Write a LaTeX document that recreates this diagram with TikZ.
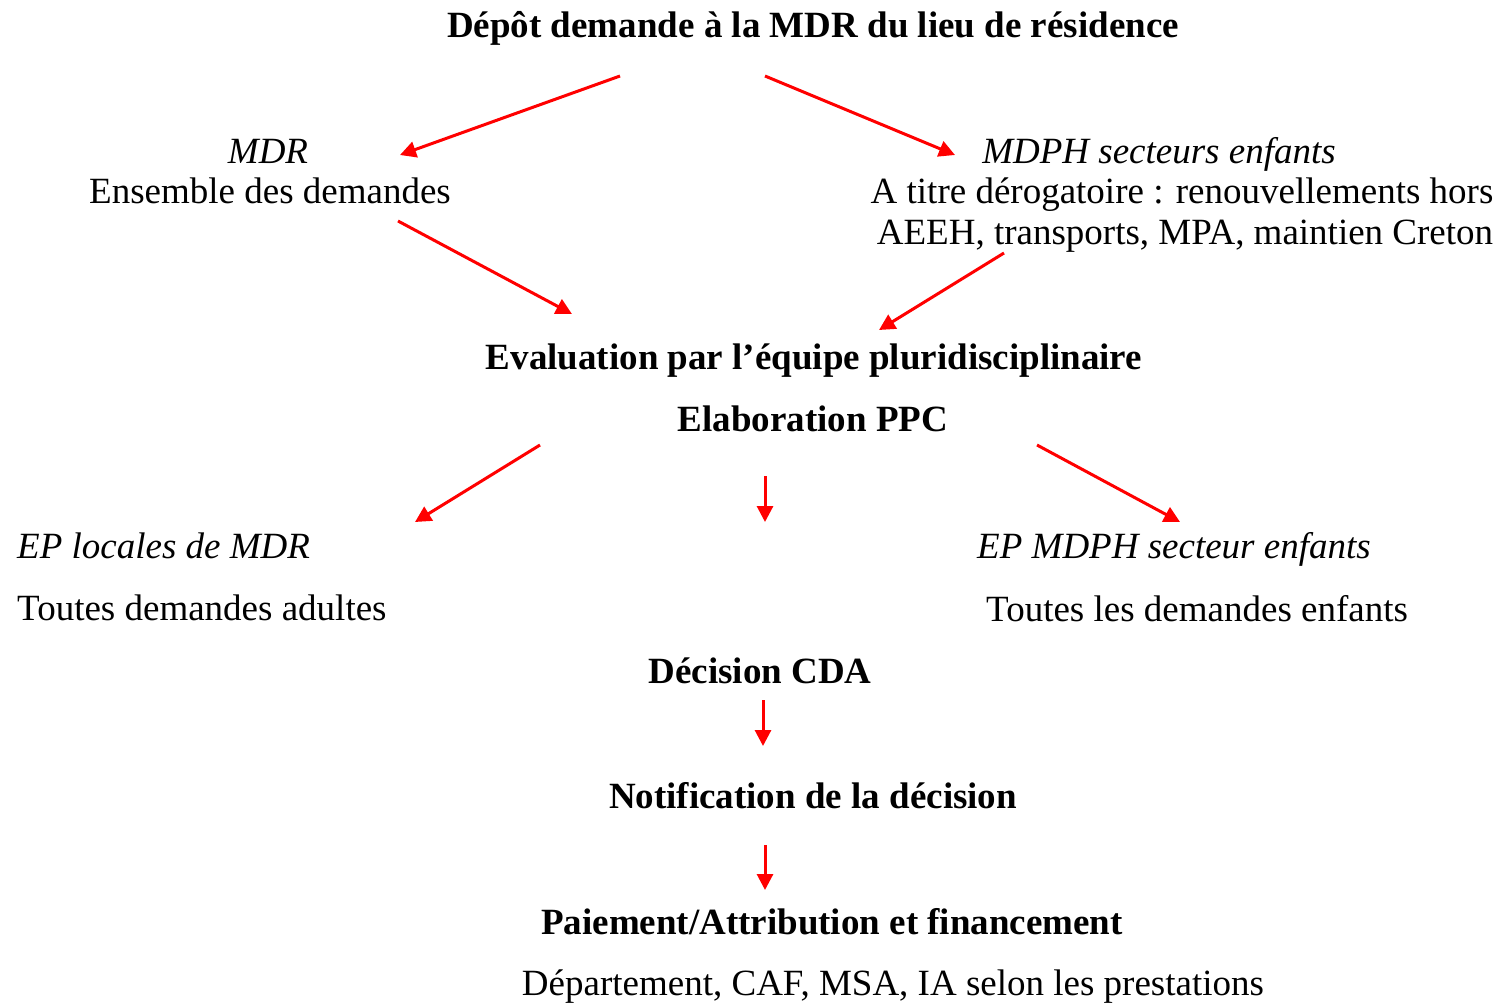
\documentclass[tikz,border=0pt]{standalone}
\usepackage{fontspec}
\setmainfont{Liberation Serif}
\usetikzlibrary{arrows.meta}
\tikzset{
  txt/.style={inner sep=0pt, anchor=base, font=\fontsize{37}{42}\selectfont},
  hd/.style={txt, font=\fontsize{37}{42}\selectfont\bfseries},
  it/.style={txt, font=\fontsize{37}{42}\selectfont\itshape},
  arr/.style={draw=red, line width=3pt, -{Triangle[length=16pt,width=16pt]}}
}
\begin{document}
\begin{tikzpicture}[x=1pt,y=-1pt]
\useasboundingbox (0,0) rectangle (1506,1002);
\node[hd] (depot) at (813,37) {Dépôt demande à la MDR du lieu de résidence};
\node[it] (mdr) at (268,163) {MDR};
\node[txt] (ens) at (270,203) {Ensemble des demandes};
\node[it] (mdph) at (1159,163) {MDPH secteurs enfants};
\node[txt] (titre) at (1182,203) {A titre dérogatoire : renouvellements hors};
\node[txt] (aeeh) at (1185,244) {AEEH, transports, MPA, maintien Creton};
\node[hd] (eval) at (814,369) {Evaluation par l’équipe pluridisciplinaire};
\node[hd] (ppc) at (813,431) {Elaboration PPC};
\node[it, anchor=base west] (eploc) at (17,558) {EP locales de MDR};
\node[txt, anchor=base west] (adultes) at (17,620) {Toutes demandes adultes};
\node[it, anchor=base west] (epmdph) at (977,558) {EP MDPH secteur enfants};
\node[txt, anchor=base west] (enfants) at (986,621) {Toutes les demandes enfants};
\node[hd] (cda) at (760,683) {Décision CDA};
\node[hd] (notif) at (813,808) {Notification de la décision};
\node[hd] (paie) at (832,934) {Paiement/Attribution et financement};
\node[txt] (dept) at (893,995) {Département, CAF, MSA, IA selon les prestations};
% arrow end points
\coordinate (a1s) at (620,76);  \coordinate (a1e) at (400,155);
\coordinate (a2s) at (765,76);  \coordinate (a2e) at (955,155);
\coordinate (a3s) at (398,221); \coordinate (a3e) at (572,314);
\coordinate (a4s) at (1004,253);\coordinate (a4e) at (879,330);
\coordinate (a5s) at (540,445); \coordinate (a5e) at (415,522);
\coordinate (a6s) at (765,476); \coordinate (a6e) at (765,522);
\coordinate (a7s) at (1037,445);\coordinate (a7e) at (1180,522);
\coordinate (a8s) at (763,700); \coordinate (a8e) at (763,746);
\coordinate (a9s) at (765,845); \coordinate (a9e) at (765,890);
\foreach \i in {1,...,9} {\draw[arr] (a\i s) -- (a\i e);}
\end{tikzpicture}
\end{document}
